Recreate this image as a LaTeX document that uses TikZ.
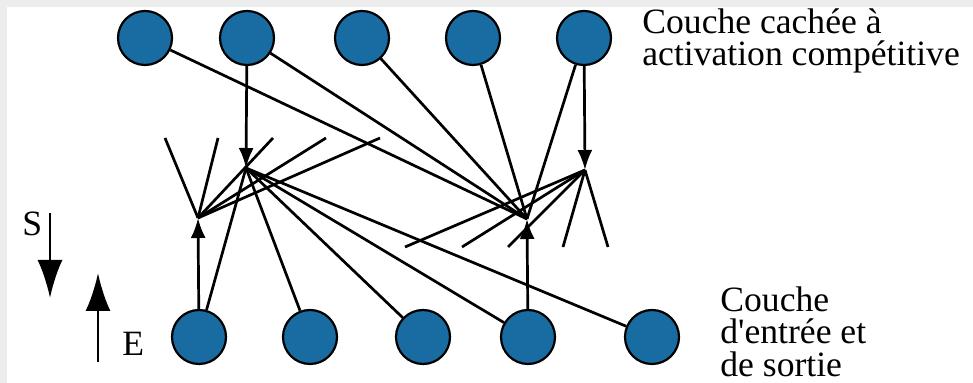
\documentclass[tikz,border=0pt]{standalone}
\usepackage{fontspec}
\newfontfamily\labelfont{Liberation Serif}
\usetikzlibrary{arrows.meta}
\definecolor{unitblue}{RGB}{24,108,162}
\tikzset{
  unit/.style={circle, draw=black, line width=1.1pt, fill=unitblue, minimum size=27pt, inner sep=0pt},
  link/.style={line width=1.35pt},
  feed/.style={line width=1.35pt, -{Latex[length=10pt,width=7.5pt]}},
  flow/.style={line width=1.4pt, -{Latex[length=19pt,width=12.5pt]}},
  legend/.style={font=\labelfont\fontsize{17.8}{16.3}\selectfont, inner sep=0pt, align=left}
}
\begin{document}
\begin{tikzpicture}[x=0.5pt, y=-0.5pt]
    \useasboundingbox (0,0) rectangle (973,383);
    \fill[gray!14] (0,0) rectangle (973,383);
    \fill[white] (7,7) rectangle (973,383);
    % hidden layer
    \node[unit] (h1) at (145,38) {};
    \node[unit] (h2) at (247,38) {};
    \node[unit] (h3) at (362,38) {};
    \node[unit] (h4) at (473,38) {};
    \node[unit] (h5) at (584,38) {};
    % input / output layer
    \node[unit] (e1) at (199,337) {};
    \node[unit] (e2) at (310,337) {};
    \node[unit] (e3) at (423,337) {};
    \node[unit] (e4) at (528,337) {};
    \node[unit] (e5) at (652,337) {};
    % junctions
    \coordinate (a) at (198,218);
    \coordinate (b) at (246,168);
    \coordinate (c) at (527,219);
    \coordinate (d) at (585,170);
    % loose ends
    \coordinate (p1) at (165,138);
    \coordinate (p2) at (218,138);
    \coordinate (p3) at (273,138);
    \coordinate (p4) at (326,138);
    \coordinate (p5) at (380,138);
    \coordinate (q1) at (405,247);
    \coordinate (q2) at (462,247);
    \coordinate (q3) at (508,247);
    \coordinate (q4) at (563,247);
    \coordinate (q5) at (608,247);
    \foreach \u/\v in {h1/c,h2/c,h3/c,h4/c,h5/c,b/e1,b/e2,b/e3,b/e4,b/e5,a/p1,a/p2,a/p3,a/p4,a/p5,d/q1,d/q2,d/q3,d/q4,d/q5} { \draw[link] (\u) -- (\v); }
    \foreach \u/\v in {h2/b,h5/d,e1/a,e4/c} { \draw[feed] (\u) -- (\v); }
    % direction legend
    \coordinate (s1) at (50,213);
    \coordinate (s2) at (50,298);
    \coordinate (r1) at (98,362);
    \coordinate (r2) at (98,273);
    \draw[flow] (s1) -- (s2);
    \draw[flow] (r1) -- (r2);
    \node[legend, anchor=base west] (s) at (22,236) {S};
    \node[legend, anchor=base west] (r) at (122,356) {E};
    \node[legend, anchor=north west] (t) at (642,8) {Couche cachée à\\activation compétitive};
    \node[legend, anchor=north west] (u) at (720,286) {Couche\\d'entrée et\\de sortie};
\end{tikzpicture}
\end{document}
